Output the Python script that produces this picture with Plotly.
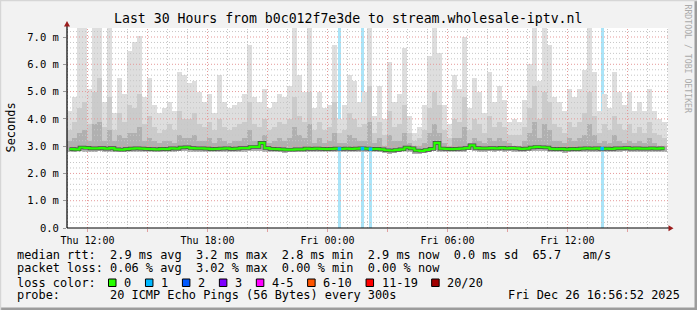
import plotly.graph_objects as go
from datetime import datetime, timedelta

# ---------------- data ----------------
COL_START = datetime(2025, 12, 25, 11, 6)
STEP_MIN = 15

smoke_max = [
    4.3, 4.8, 7.4, 7.4, 5.1, 7.4, 7.4, 4.6, 7.4, 4.2,
    5.5, 4.9, 6.5, 6.8, 7.05, 4.8, 5.5, 4.5, 4.2, 4.4,
    4.6, 4.3, 5.7, 5.6, 5.3, 5.4, 5.0, 4.6, 4.9, 4.2,
    5.6, 4.6, 4.4, 4.5, 4.6, 4.9, 6.7, 4.8, 4.6, 5.1,
    4.4, 4.6, 4.9, 4.8, 5.2, 7.4, 5.6, 5.0, 7.4, 4.4,
    5.0, 4.4, 4.5, 6.7, 4.0, 4.5, 5.6, 5.4, 4.6, 5.0,
    7.4, 4.1, 5.2, 4.0, 6.1, 4.6, 4.9, 6.6, 4.1, 3.5,
    3.7, 4.5, 6.3, 7.4, 6.4, 4.5, 3.8, 5.6, 5.1, 7.0,
    4.4, 5.5, 5.0, 4.2, 5.7, 4.6, 5.2, 4.7, 3.9, 4.0,
    3.9, 4.7, 6.0, 7.4, 5.4, 7.4, 6.7, 4.8, 4.6, 4.3,
    5.1, 4.8, 5.1, 5.8, 7.4, 5.7, 4.3, 4.9, 4.4, 5.7,
    5.0, 4.5, 5.0, 4.3, 4.6, 4.3, 5.1, 4.3, 4.0, 3.9,
]
smoke_p90 = [
    3.6, 3.9, 4.4, 4.6, 3.8, 5.0, 5.5, 3.7, 4.8, 3.6,
    4.2, 3.9, 4.5, 4.4, 4.9, 3.8, 4.1, 3.7, 3.5, 3.6,
    3.8, 3.6, 4.3, 4.0, 4.0, 4.2, 3.8, 3.7, 3.9, 3.6,
    4.0, 3.7, 3.6, 3.7, 3.8, 3.9, 4.6, 3.8, 3.7, 4.0,
    3.6, 3.7, 3.9, 3.8, 4.0, 4.8, 4.1, 3.9, 5.0, 3.6,
    3.9, 3.6, 3.7, 4.6, 3.5, 3.6, 4.2, 4.0, 3.7, 3.8,
    5.2, 3.5, 3.9, 3.4, 4.3, 3.7, 3.8, 4.5, 3.5, 3.2,
    3.3, 3.6, 4.4, 5.0, 4.5, 3.6, 3.3, 4.0, 3.9, 4.8,
    3.6, 4.0, 3.8, 3.5, 4.1, 3.7, 3.9, 3.7, 3.4, 3.4,
    3.4, 3.7, 4.4, 5.2, 4.0, 5.0, 4.6, 3.8, 3.7, 3.5,
    3.9, 3.7, 3.9, 4.2, 5.0, 4.1, 3.5, 3.8, 3.6, 4.1,
    3.8, 3.6, 3.8, 3.5, 3.7, 3.5, 3.9, 3.5, 3.4, 3.3,
]
smoke_p75 = [
    3.2, 3.3, 3.5, 3.6, 3.2, 3.8, 3.9, 3.2, 3.6, 3.2,
    3.4, 3.3, 3.5, 3.5, 3.7, 3.2, 3.3, 3.2, 3.1, 3.2,
    3.2, 3.1, 3.4, 3.3, 3.3, 3.4, 3.2, 3.2, 3.3, 3.1,
    3.3, 3.2, 3.1, 3.2, 3.2, 3.3, 3.6, 3.2, 3.2, 3.4,
    3.1, 3.2, 3.3, 3.2, 3.3, 3.7, 3.4, 3.3, 3.8, 3.1,
    3.3, 3.1, 3.2, 3.5, 3.1, 3.1, 3.4, 3.3, 3.2, 3.2,
    3.9, 3.1, 3.3, 3.0, 3.4, 3.2, 3.2, 3.5, 3.1, 3.0,
    3.0, 3.1, 3.5, 3.8, 3.5, 3.1, 3.0, 3.3, 3.3, 3.7,
    3.1, 3.3, 3.2, 3.1, 3.3, 3.2, 3.3, 3.2, 3.1, 3.0,
    3.0, 3.2, 3.5, 3.9, 3.3, 3.8, 3.6, 3.2, 3.2, 3.1,
    3.3, 3.2, 3.3, 3.4, 3.8, 3.4, 3.1, 3.2, 3.1, 3.4,
    3.2, 3.1, 3.2, 3.1, 3.2, 3.1, 3.3, 3.1, 3.0, 3.0,
]
median_rtt = [
    2.89, 2.88, 2.95, 2.94, 2.92, 2.92, 2.93, 2.91, 2.93, 2.88,
    2.87, 2.89, 2.91, 2.92, 2.91, 2.90, 2.89, 2.88, 2.90, 2.89,
    2.92, 2.91, 2.95, 2.96, 2.93, 2.92, 2.92, 2.91, 2.89, 2.90,
    2.91, 2.92, 2.90, 2.91, 2.93, 2.93, 2.97, 2.97, 3.12, 2.93,
    2.90, 2.89, 2.88, 2.87, 2.87, 2.88, 2.88, 2.91, 2.90, 2.91,
    2.90, 2.89, 2.90, 2.91, 2.90, 2.91, 2.90, 2.91, 2.92, 2.91,
    2.89, 2.90, 2.88, 2.85, 2.84, 2.86, 2.88, 2.95, 2.92, 2.84,
    2.83, 2.86, 2.90, 3.12, 2.91, 2.90, 2.89, 2.90, 2.91, 2.93,
    3.03, 2.93, 2.92, 2.92, 2.93, 2.92, 2.94, 2.92, 2.93, 2.92,
    2.90, 2.91, 2.95, 2.97, 2.96, 2.95, 2.90, 2.89, 2.90, 2.88,
    2.90, 2.89, 2.91, 2.92, 2.91, 2.92, 2.90, 2.91, 2.90, 2.92,
    2.92, 2.93, 2.91, 2.92, 2.91, 2.91, 2.92, 2.91, 2.92, 2.92,
]
smoke_min = [
    2.79, 2.80, 2.81, 2.80, 2.79, 2.80, 2.81, 2.80, 2.80, 2.78,
    2.78, 2.79, 2.80, 2.80, 2.79, 2.79, 2.78, 2.78, 2.79, 2.78,
    2.80, 2.79, 2.81, 2.82, 2.80, 2.80, 2.79, 2.79, 2.78, 2.79,
    2.79, 2.80, 2.79, 2.79, 2.80, 2.80, 2.82, 2.81, 2.83, 2.80,
    2.78, 2.77, 2.77, 2.76, 2.77, 2.77, 2.77, 2.79, 2.78, 2.79,
    2.78, 2.78, 2.79, 2.79, 2.78, 2.79, 2.78, 2.79, 2.80, 2.79,
    2.78, 2.78, 2.77, 2.74, 2.73, 2.75, 2.77, 2.81, 2.79, 2.73,
    2.72, 2.75, 2.78, 2.85, 2.79, 2.78, 2.78, 2.78, 2.79, 2.80,
    2.86, 2.81, 2.80, 2.80, 2.81, 2.80, 2.81, 2.80, 2.81, 2.80,
    2.78, 2.79, 2.82, 2.83, 2.82, 2.82, 2.78, 2.77, 2.78, 2.76,
    2.78, 2.77, 2.79, 2.80, 2.79, 2.80, 2.78, 2.79, 2.78, 2.80,
    2.80, 2.81, 2.79, 2.80, 2.79, 2.79, 2.80, 2.79, 2.80, 2.80,
]
times = [COL_START + timedelta(minutes=STEP_MIN * i) for i in range(len(median_rtt))]

loss_times = [datetime(2025, 12, 26, 0, 36), datetime(2025, 12, 26, 1, 45),
              datetime(2025, 12, 26, 2, 9), datetime(2025, 12, 26, 13, 44)]
loss_counts = [1, 1, 1, 1]

loss_labels = ["0", "1", "2", "3", "4-5", "6-10", "11-19", "20/20"]
loss_colors = ["#26ff00", "#00b8ff", "#0059ff", "#7e00ff", "#ff00ff", "#ff5500", "#ff0000", "#a10000"]
loss_bg = {1: "#aae4f8"}

y_tick_vals = [0, 1, 2, 3, 4, 5, 6, 7]
y_tick_text = ["0.0", "1.0 m", "2.0 m", "3.0 m", "4.0 m", "5.0 m", "6.0 m", "7.0 m"]

title_text = "Last 30 Hours from b0c012f7e3de to stream.wholesale-iptv.nl"
stat_lines = [
    "median rtt:  2.9 ms avg  3.2 ms max  2.8 ms min  2.9 ms now  0.0 ms sd  65.7   am/s",
    "packet loss: 0.06 % avg  3.02 % max  0.00 % min  0.00 % now",
    "loss color:",
    "probe:       20 ICMP Echo Pings (56 Bytes) every 300s",
]
stamp_text = "Fri Dec 26 16:56:52 2025"
credit_text = "RRDTOOL / TOBI OETIKER"
y_title = "Seconds"

# ---------------- layout geometry ----------------
FW, FH = 697, 310
L, R, T, B = 67, 29, 28, 82
PW, PH = FW - L - R, FH - T - B
T_START = datetime(2025, 12, 25, 10, 58, 30)
T_END = T_START + timedelta(hours=PW / 20.0)
Y_TOP = 7.33
MONO = "DejaVu Sans Mono"
CHAR_W = 7.16


def px(x):
    return (x - L) / PW


def py(y):
    return (FH - B - y) / PH


def nb(s):
    return s.replace(" ", "\u00a0")


fig = go.Figure()

# loss background bars
fig.add_trace(go.Bar(
    x=loss_times, y=[Y_TOP] * len(loss_times), base=0,
    width=10 * 60 * 1000,
    marker=dict(color=[loss_bg[c] for c in loss_counts], line=dict(width=0)),
    hoverinfo="skip", showlegend=False))

# smoke layers (outermost lightest)
bw = STEP_MIN * 60 * 1000
for upper, col in [(smoke_max, "#dedede"), (smoke_p90, "#cbcbcb"), (smoke_p75, "#b0b0b0")]:
    fig.add_trace(go.Bar(
        x=times, base=smoke_min, y=[u - m for u, m in zip(upper, smoke_min)],
        width=bw, marker=dict(color=col, line=dict(width=0)),
        hoverinfo="skip", showlegend=False))


# grid lines (drawn above smoke, below median)
def hline_trace(vals, color):
    xs, ys = [], []
    for v in vals:
        xs += [T_START, T_END, None]
        ys += [v, v, None]
    return go.Scatter(x=xs, y=ys, mode="lines", line=dict(color=color, width=1, dash="1px,2px"),
                      hoverinfo="skip", showlegend=False)


def vline_trace(vals, color):
    xs, ys = [], []
    for v in vals:
        xs += [v, v, None]
        ys += [0, Y_TOP, None]
    return go.Scatter(x=xs, y=ys, mode="lines", line=dict(color=color, width=1, dash="1px,2px"),
                      hoverinfo="skip", showlegend=False)


minor_y = [k / 5 for k in range(1, 37) if k % 5 != 0]
major_y = [k for k in range(1, 8)]
hours = []
h = datetime(2025, 12, 25, 11, 0)
while h < T_END:
    hours.append(h)
    h += timedelta(hours=1)
minor_x = [h for h in hours if h.hour % 3 != 0]
major_x = [h for h in hours if h.hour % 3 == 0]

fig.add_trace(hline_trace(minor_y, "#c6c6c6"))
fig.add_trace(vline_trace(minor_x, "#c6c6c6"))
fig.add_trace(hline_trace(major_y, "#e59a9a"))
fig.add_trace(vline_trace(major_x, "#e59a9a"))

# median line
fig.add_trace(go.Scatter(x=times, y=median_rtt, mode="lines", line=dict(color="#4a4a4a", width=3.6, shape="hv"),
                         hoverinfo="skip", showlegend=False))
fig.add_trace(go.Scatter(x=times, y=median_rtt, mode="lines", line=dict(color=loss_colors[0], width=2.2, shape="hv"),
                         hoverinfo="skip", showlegend=False))
# median points with loss
loss_idx = [round((t - COL_START).total_seconds() / (STEP_MIN * 60)) for t in loss_times]
fig.add_trace(go.Scatter(x=loss_times, y=[median_rtt[i] for i in loss_idx], mode="markers",
                         marker=dict(symbol="square", size=3.5, color=[loss_colors[c] for c in loss_counts]),
                         hoverinfo="skip", showlegend=False))

tick_x = major_x
tick_text = [t.strftime("%a %H:%M") if t.hour % 6 == 0 else "" for t in tick_x]

fig.update_layout(
    width=FW, height=FH, autosize=False,
    margin=dict(l=L, r=R, t=T, b=B, pad=0),
    paper_bgcolor="#f2f2f2", plot_bgcolor="#ffffff",
    barmode="overlay", bargap=0, showlegend=False,
    font=dict(family=MONO, color="#000000"),
    xaxis=dict(type="date", range=[T_START, T_END], showgrid=False, zeroline=False,
               tickvals=tick_x, ticktext=tick_text, ticks="outside", ticklen=3,
               tickcolor="#e0a0a0", tickfont=dict(family=MONO, size=10, color="#000"),
               showline=False, automargin=False, fixedrange=True),
    yaxis=dict(range=[0, Y_TOP], showgrid=False, zeroline=False,
               tickvals=y_tick_vals, ticktext=y_tick_text, ticks="outside", ticklen=3,
               tickcolor="#999999", tickfont=dict(family=MONO, size=10.5, color="#000"),
               ticklabelstandoff=2, showline=False, automargin=False, fixedrange=True),
)

shapes = []
# axes lines + arrows
shapes.append(dict(type="line", xref="paper", yref="paper", x0=px(67), x1=px(669), y0=0, y1=0,
                   line=dict(color="#000000", width=1.2)))
shapes.append(dict(type="line", xref="paper", yref="paper", x0=0, x1=0, y0=0, y1=py(24),
                   line=dict(color="#000000", width=1.2)))
shapes.append(dict(type="path", xref="paper", yref="paper",
                   path=f"M {px(668.5)} {py(225.3)} L {px(673.5)} {py(228.3)} L {px(668.5)} {py(231.3)} Z",
                   fillcolor="#9b1c1c", line=dict(width=0)))
shapes.append(dict(type="path", xref="paper", yref="paper",
                   path=f"M {px(64)} {py(26.5)} L {px(67)} {py(21)} L {px(70)} {py(26.5)} Z",
                   fillcolor="#9b1c1c", line=dict(width=0)))
# frame
shapes.append(dict(type="rect", xref="paper", yref="paper", x0=px(0), x1=px(697), y0=py(307.5), y1=py(310),
                   fillcolor="#9c9c9c", line=dict(width=0)))
shapes.append(dict(type="rect", xref="paper", yref="paper", x0=px(694.5), x1=px(697), y0=py(0), y1=py(310),
                   fillcolor="#9c9c9c", line=dict(width=0)))
shapes.append(dict(type="rect", xref="paper", yref="paper", x0=px(0), x1=px(697), y0=py(0), y1=py(1.2),
                   fillcolor="#d6d6d6", line=dict(width=0)))
shapes.append(dict(type="rect", xref="paper", yref="paper", x0=px(0), x1=px(1.2), y0=py(0), y1=py(310),
                   fillcolor="#d6d6d6", line=dict(width=0)))

annotations = []
annotations.append(dict(text=nb(title_text), xref="paper", yref="paper", x=px(347.5), y=py(18.5),
                        xanchor="center", yanchor="middle", showarrow=False,
                        font=dict(family=MONO, size=13.2, color="#000")))
annotations.append(dict(text=y_title, xref="paper", yref="paper", x=px(10.5), y=py(128),
                        xanchor="center", yanchor="middle", textangle=-90, showarrow=False,
                        font=dict(family=MONO, size=11.9, color="#000")))
annotations.append(dict(text=credit_text, xref="paper", yref="paper", x=px(687.5), y=py(59),
                        xanchor="center", yanchor="middle", textangle=90, showarrow=False,
                        font=dict(family=MONO, size=8.2, color="#aaaaaa")))
line_y = [254.5, 268, 282.5, 295]
for s, yy in zip(stat_lines, line_y):
    annotations.append(dict(text=nb(s), xref="paper", yref="paper", x=px(15.5), y=py(yy),
                            xanchor="left", yanchor="middle", showarrow=False, borderpad=0,
                            font=dict(family=MONO, size=11.9, color="#000")))
annotations.append(dict(text=nb(stamp_text), xref="paper", yref="paper", x=px(681), y=py(line_y[3]),
                        xanchor="right", yanchor="middle", showarrow=False, borderpad=0,
                        font=dict(family=MONO, size=11.9, color="#000")))

# loss colour legend swatches
bx = 108.5
for lab, col in zip(loss_labels, loss_colors):
    shapes.append(dict(type="rect", xref="paper", yref="paper", x0=px(bx), x1=px(bx + 7.5),
                       y0=py(286.5), y1=py(279), fillcolor=col, line=dict(color="#000", width=1)))
    lx = bx + 15
    annotations.append(dict(text=nb(lab), xref="paper", yref="paper", x=px(lx - 0.5), y=py(line_y[2]),
                            xanchor="left", yanchor="middle", showarrow=False, borderpad=0,
                            font=dict(family=MONO, size=11.9, color="#000")))
    bx = lx + len(lab) * CHAR_W + 14.8

fig.update_layout(shapes=shapes, annotations=annotations)
fig.write_html("out.html")
